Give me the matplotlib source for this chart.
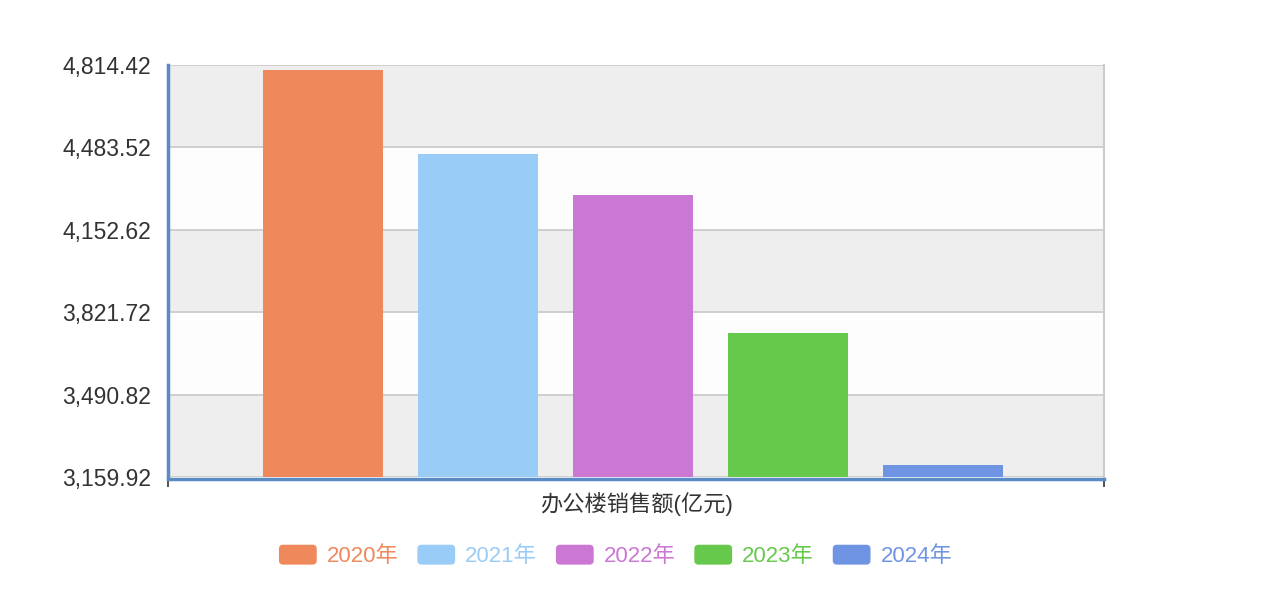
import matplotlib.pyplot as plt
from matplotlib.patches import FancyBboxPatch
from matplotlib.legend_handler import HandlerPatch
from matplotlib.ticker import FuncFormatter

# data
category = '办公楼销售额(亿元)'
years = ['2020年', '2021年', '2022年', '2023年', '2024年']
sales = [4793, 4456, 4291, 3739, 3207]
y_ticks = [3159.92, 3490.82, 3821.72, 4152.62, 4483.52, 4814.42]

colors = ['#ef885b', '#99ccf6', '#cb77d4', '#67c94c', '#7094e4']
fonts = ['Liberation Sans', 'Noto Sans CJK SC', 'DejaVu Sans']
plt.rcParams['font.family'] = fonts


class RoundBox(HandlerPatch):
    def create_artists(self, legend, orig_handle, xdescent, ydescent,
                       width, height, fontsize, trans):
        p = FancyBboxPatch((-xdescent, -ydescent), width, height,
                           boxstyle='round,pad=0,rounding_size=3',
                           facecolor=orig_handle.get_facecolor(),
                           edgecolor='none', transform=trans)
        return [p]


fig = plt.figure(figsize=(12.68, 6.11), dpi=100)
ax = fig.add_axes([0.1325, 0.2193, 0.7382, 0.6743])

# alternating bands between grid lines
for i in range(len(y_ticks) - 1):
    band = '#eeeeee' if (len(y_ticks) - 2 - i) % 2 == 0 else '#fdfdfd'
    ax.axhspan(y_ticks[i], y_ticks[i + 1], color=band, zorder=0, lw=0)
for t in y_ticks:
    ax.axhline(t, color='#cccccc', lw=1.3, zorder=1)

step = 0.1656
width = 0.128
shift = -0.0035
bars = []
for i, (yr, v) in enumerate(zip(years, sales)):
    b = ax.bar((i - 2) * step + shift, v - y_ticks[0], bottom=y_ticks[0],
               width=width, color=colors[i], label=yr, zorder=2)
    bars.append(b[0])

ax.set_xlim(-0.5, 0.5)
ax.set_ylim(y_ticks[0], y_ticks[-1])
ax.set_yticks(y_ticks)
ax.yaxis.set_major_formatter(FuncFormatter(lambda v, p: f'{v:,.2f}'))
ax.tick_params(axis='y', length=0, pad=12, labelsize=16.5, labelcolor='#333333')
ax.set_xticks([-0.5, 0.5])
ax.set_xticklabels(['', ''])
ax.tick_params(axis='x', length=6, width=1.2, color='#333333', direction='out')
ax.set_xlabel(category, fontsize=16, color='#333333', labelpad=0)

ax.spines['top'].set_visible(False)
ax.spines['right'].set_color('#cccccc')
ax.spines['right'].set_linewidth(1.5)
ax.spines['left'].set_color('#5a8bc5')
ax.spines['left'].set_linewidth(2.5)
ax.spines['bottom'].set_color('#5a8bc5')
ax.spines['bottom'].set_linewidth(2.5)
ax.spines['bottom'].set_position(('outward', 1.5))

leg = fig.legend(handles=bars, labels=years, loc='center',
                 bbox_to_anchor=(0.4855, 0.090), ncol=5, frameon=False,
                 fontsize=16, labelcolor=colors, handlelength=1.7,
                 handleheight=1.0, handletextpad=0.45, columnspacing=0.85,
                 handler_map={type(bars[0]): RoundBox()})

fig.savefig('out.png', dpi=100)
